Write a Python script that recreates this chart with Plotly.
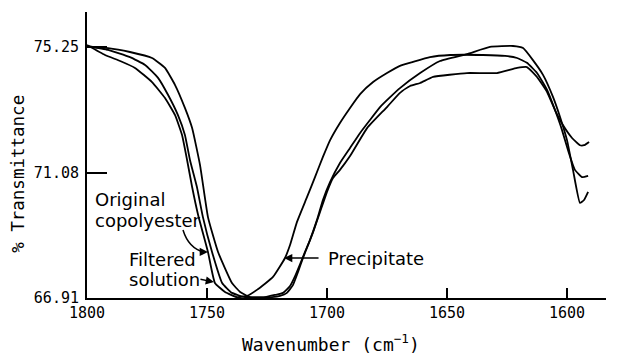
import plotly.graph_objects as go

# IR carbonyl band of the copolyester samples (wavenumber in cm^-1, % transmittance)
wn_precipitate = [1800, 1792.5, 1786.2, 1780.0, 1772.9, 1767.5, 1763.3, 1760.4, 1758.3, 1756.2,
                  1753.7, 1749.6, 1746.7, 1742.5, 1737.5, 1733.3, 1729.2, 1722.5, 1717.5, 1715.4,
                  1712.5, 1708.3, 1705.0, 1701.7, 1698.7, 1694.6, 1690.4, 1686.2, 1680.8, 1675.0,
                  1669.6, 1664.2, 1657.1, 1648.7, 1635.0, 1625.8, 1620.8, 1616.7, 1612.5, 1608.3,
                  1605.0, 1602.1, 1599.6, 1596.7, 1593.7, 1591.2]
t_precipitate = [75.32, 74.99, 74.79, 74.56, 74.09, 73.56, 72.99, 72.33, 71.50, 70.60,
                 69.67, 68.44, 67.41, 67.11, 66.94, 66.98, 67.18, 67.61, 68.24, 68.67,
                 69.44, 70.27, 70.93, 71.60, 72.16, 72.73, 73.23, 73.69, 74.09, 74.39,
                 74.63, 74.76, 74.92, 74.99, 74.99, 74.96, 74.89, 74.73, 74.39, 73.83,
                 73.16, 72.50, 71.83, 71.17, 70.93, 70.97]

wn_original = [1800, 1791.2, 1782.1, 1775.8, 1770.4, 1766.2, 1762.1, 1759.2, 1757.1, 1754.2,
               1751.7, 1747.9, 1743.7, 1739.6, 1734.2, 1730.0, 1725.8, 1721.7, 1718.3, 1715.4,
               1713.3, 1711.2, 1709.2, 1707.1, 1704.2, 1701.7, 1698.7, 1694.6, 1690.4, 1686.2,
               1682.1, 1677.9, 1673.7, 1669.6, 1661.2, 1652.9, 1641.7, 1632.1, 1622.5, 1618.3,
               1614.2, 1610.0, 1605.8, 1602.9, 1600.0, 1597.5, 1594.6, 1592.9, 1591.2]
t_original = [75.29, 75.16, 74.92, 74.66, 74.23, 73.66, 72.99, 72.33, 71.50, 70.60,
              69.60, 68.44, 67.41, 67.08, 66.94, 66.93, 66.94, 67.01, 67.08, 67.31,
              67.64, 68.04, 68.44, 68.84, 69.50, 70.17, 70.77, 71.40, 71.90, 72.40,
              72.83, 73.26, 73.59, 73.89, 74.39, 74.79, 75.02, 75.26, 75.29, 75.22,
              74.82, 74.33, 73.59, 72.93, 72.16, 71.17, 70.07, 70.17, 70.44]

wn_filtered = [1800, 1791.2, 1782.1, 1772.9, 1767.5, 1763.3, 1759.2, 1756.2, 1752.9, 1749.6,
               1745.4, 1739.6, 1736.2, 1732.1, 1727.9, 1722.9, 1719.6, 1716.7, 1714.2, 1712.1,
               1710.0, 1707.9, 1705.8, 1702.9, 1700.0, 1697.5, 1694.6, 1690.4, 1683.3, 1675.0,
               1669.6, 1665.4, 1661.2, 1655.8, 1641.7, 1629.2, 1620.8, 1616.7, 1612.5, 1608.3,
               1605.0, 1601.7, 1597.9, 1594.6, 1592.9, 1590.8]
t_filtered = [75.26, 75.22, 75.09, 74.89, 74.56, 73.99, 73.23, 72.56, 71.33, 69.60,
              68.44, 67.41, 67.11, 66.94, 66.93, 66.94, 66.98, 67.08, 67.34, 67.77,
              68.24, 68.67, 69.10, 69.77, 70.44, 70.90, 71.17, 71.63, 72.56, 73.26,
              73.73, 73.96, 74.06, 74.26, 74.39, 74.39, 74.56, 74.59, 74.26, 73.76,
              73.16, 72.66, 72.23, 71.99, 71.99, 72.10]

x_ticks = [1800, 1750, 1700, 1650, 1600]
y_ticks = [66.91, 71.08, 75.25]

mono = "DejaVu Sans Mono"
sans = "DejaVu Sans"

fig = go.Figure()
for wn, t, name in [(wn_original, t_original, "Original copolyester"),
                    (wn_filtered, t_filtered, "Filtered solution"),
                    (wn_precipitate, t_precipitate, "Precipitate")]:
    fig.add_trace(go.Scatter(x=wn, y=t, mode="lines", name=name,
                             line=dict(color="black", width=1.8, shape="spline", smoothing=0.4)))

# curved leader from the "copolyester" label down to its curve
fig.add_shape(type="path", xref="x", yref="y",
              path="M 1760.0,69.17 Q 1757.6,68.55 1751.2,68.44",
              line=dict(color="black", width=1.5))

annotations = [
    # curve labels
    dict(x=1797.5, y=70.17, text="Original", xanchor="left", yanchor="middle"),
    dict(x=1797.5, y=69.50, text="copolyester", xanchor="left", yanchor="middle"),
    dict(x=1783.3, y=68.19, text="Filtered", xanchor="left", yanchor="middle"),
    dict(x=1783.3, y=67.53, text="solution", xanchor="left", yanchor="middle"),
    dict(x=1700.4, y=68.24, text="Precipitate", xanchor="left", yanchor="middle"),
]
for a in annotations:
    a.update(xref="x", yref="y", showarrow=False, font=dict(family=sans, size=18, color="black"))

arrows = [
    dict(x=1749.6, y=68.44, ax=-7, ay=0),     # Original copolyester
    dict(x=1747.1, y=67.44, ax=-15, ay=-3),   # Filtered solution
    dict(x=1717.9, y=68.24, ax=36, ay=0),     # Precipitate
]
for a in arrows:
    a.update(xref="x", yref="y", text="", showarrow=True, arrowhead=2, arrowsize=1.1,
             arrowwidth=1.5, arrowcolor="black", standoff=0, startstandoff=0)

titles = [
    dict(x=0.471, y=-0.158, xref="paper", yref="paper", text="Wavenumber (cm<sup>−1</sup>)",
         showarrow=False, xanchor="center", yanchor="middle",
         font=dict(family=mono, size=18, color="black")),
    dict(x=-0.133, y=0.434, xref="paper", yref="paper", text="% Transmittance", textangle=-90,
         showarrow=False, xanchor="center", yanchor="middle",
         font=dict(family=mono, size=17.5, color="black")),
]

fig.update_layout(
    width=634, height=355,
    margin=dict(l=87, r=28, t=12, b=57),
    paper_bgcolor="white", plot_bgcolor="white",
    showlegend=False,
    annotations=annotations + arrows + titles,
    xaxis=dict(range=[1800, 1583.75], tickvals=x_ticks, ticks="inside", ticklen=10,
               tickwidth=1.5, tickcolor="black", showline=True, linewidth=2, linecolor="black",
               showgrid=False, zeroline=False, ticklabelstandoff=0,
               tickfont=dict(family=mono, size=15, color="black")),
    yaxis=dict(range=[66.91, 76.42], tickvals=y_ticks, tickformat=".2f", ticks="inside",
               ticklen=20, tickwidth=1.5, tickcolor="black", showline=True, linewidth=2,
               linecolor="black", showgrid=False, zeroline=False, ticklabelstandoff=3,
               tickfont=dict(family=mono, size=15, color="black")),
)

fig.write_html("out.html")
